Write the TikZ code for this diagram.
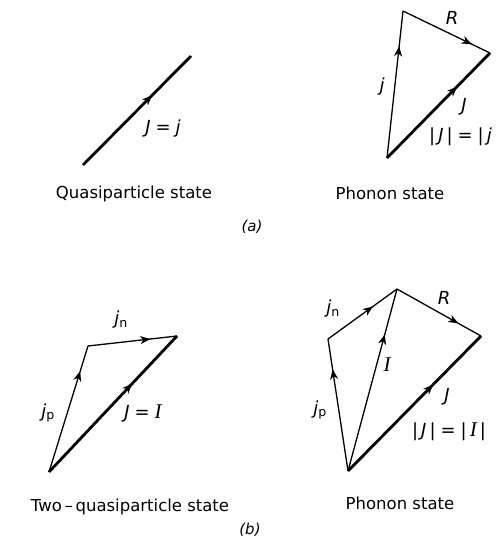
\documentclass[tikz,border=0pt]{standalone}
\usepackage{fontspec}
\setmainfont{DejaVu Sans}
\newfontfamily\serifI{Liberation Serif}
\newcommand{\bigI}{{\serifI\itshape\fontsize{21}{22}\selectfont I}}
\usetikzlibrary{arrows.meta,decorations.markings}
\begin{document}
\begin{tikzpicture}[x=1pt,y=-1pt,
  thin vec/.style={line width=1.3pt},
  thick vec/.style={line width=2.8pt},
  midarrow/.style={postaction={decorate},decoration={markings,
    mark=at position #1 with {\arrow{Stealth[length=10pt,width=8pt,inset=3pt]}}}},
  lbl/.style={inner sep=0pt,font=\fontsize{18}{20}\selectfont\itshape},
  captxt/.style={inner sep=0pt,font=\fontsize{16.5}{18}\selectfont}]
\useasboundingbox[fill=white] (0,0) rectangle (502,546);

% (a) left
\coordinate (a1) at (83,165);
\coordinate (a2) at (191,56);
\draw[thick vec,midarrow=0.64] (a1) -- (a2);
\node[lbl] (la1) at (163,129) {J\;=\;j};
\node[captxt] (ca1) at (134,194) {Quasiparticle state};

% (a) right
\coordinate (b0) at (387,158);
\coordinate (bt) at (403,11);
\coordinate (br) at (490,53);
\draw[thin vec,midarrow=0.76] (b0) -- (bt);
\draw[thin vec,midarrow=0.79] (bt) -- (br);
\draw[thick vec,midarrow=0.68] (b0) -- (br);
\node[lbl] (lR1) at (452,18) {R};
\node[lbl] (lj1) at (382,87) {j};
\node[lbl] (lJ1) at (464,107) {J};
\node[lbl,anchor=west] (lJj) at (429,137) {|\,J\,|\;=\;|\,j};
\node[captxt] (ca2) at (390,193) {Phonon state};
\node[captxt,font=\fontsize{15}{17}\selectfont\itshape] (capa) at (252,227) {(a)};

% (b) left
\coordinate (c0) at (49,472);
\coordinate (cl) at (88,346);
\coordinate (cr) at (177,336);
\draw[thin vec,midarrow=0.80] (c0) -- (cl);
\draw[thin vec,midarrow=0.70] (cl) -- (cr);
\draw[thick vec,midarrow=0.65] (c0) -- (cr);
\node[lbl] (ljn1) at (121,320) {j\textsubscript{\upshape n}};
\node[lbl] (ljp1) at (48,413) {j\textsubscript{\upshape p}};
\node[lbl] (lJI) at (143,413) {J\;=\;\bigI};
\node[captxt] (cb1) at (130,507) {Two{\,\textendash\,}quasiparticle state};

% (b) right
\coordinate (d0) at (348,471);
\coordinate (dl) at (328,339);
\coordinate (dt) at (397,289);
\coordinate (dr) at (481,336);
\draw[thin vec,midarrow=0.77] (d0) -- (dl);
\draw[thin vec,midarrow=0.65] (dl) -- (dt);
\draw[thin vec,midarrow=0.75] (d0) -- (dt);
\draw[thin vec,midarrow=0.73] (dt) -- (dr);
\draw[thick vec,midarrow=0.64] (d0) -- (dr);
\node[lbl] (ljn2) at (333,309) {j\textsubscript{\upshape n}};
\node[lbl] (lI) at (387,365) {\bigI};
\node[lbl] (lR2) at (444,298) {R};
\node[lbl] (ljp2) at (320,410) {j\textsubscript{\upshape p}};
\node[lbl] (lJ2) at (447,397) {J};
\node[lbl] (lJI2) at (449,432) {|\,J\,|\;=\;|\,\bigI\,|};
\node[captxt] (cb2) at (400,503) {Phonon state};
\node[captxt,font=\fontsize{15}{17}\selectfont\itshape] (capb) at (250,530) {(b)};
\end{tikzpicture}
\end{document}
